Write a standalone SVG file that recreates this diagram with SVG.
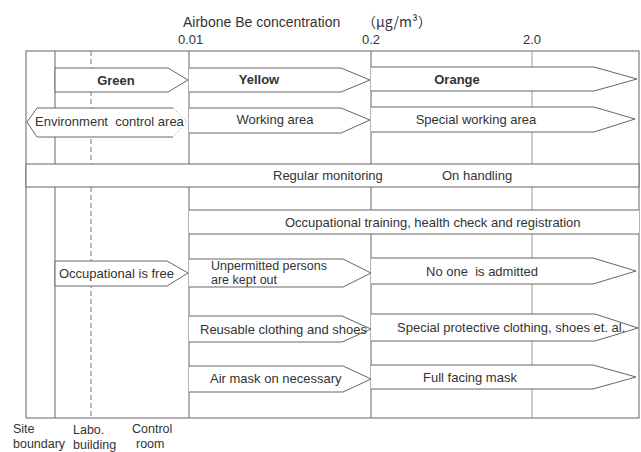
<svg xmlns="http://www.w3.org/2000/svg" width="641" height="452" viewBox="0 0 641 452">
<style>
text{font-family:"Liberation Sans",Arial,"Noto Sans CJK JP",sans-serif;font-size:13px;fill:#333}
.b{font-weight:bold}
.m{text-anchor:middle}
.ln{fill:none;stroke:#666;stroke-width:1}
.lt{fill:none;stroke:#999;stroke-width:1}
.dash{fill:none;stroke:#777;stroke-width:1;stroke-dasharray:5 3}
.wf{fill:#fff;stroke:none}
.sh{fill:#fff;stroke:#666;stroke-width:1}
.faint{fill:none;stroke:#bbb;stroke-width:1;stroke-dasharray:2 2}
.sm{font-size:12.5px}
</style>
<rect width="641" height="452" fill="#fff"/>
<g id="axis-labels">
<text x="183" y="27" style="font-size:14px">Airbone Be concentration<tspan x="362" style="font-family:'Noto Sans CJK JP',sans-serif">（μg/m³）</tspan></text>
<text x="178" y="44">0.01</text>
<text x="362" y="44">0.2</text>
<text x="523" y="44">2.0</text>
<text class="sm" x="13" y="433">Site</text>
<text class="sm" x="13" y="448">boundary</text>
<text class="sm" x="73" y="434">Labo.</text>
<text class="sm" x="73" y="449">building</text>
<text class="sm" x="132" y="433">Control</text>
<text class="sm" x="136" y="448">room</text>
</g>
<g id="connectors">
<rect class="ln" x="26" y="51" width="613" height="367"/>
<line class="ln" x1="55" y1="51" x2="55" y2="418"/>
<line class="dash" x1="91" y1="51" x2="91" y2="418"/>
<line class="ln" x1="189" y1="51" x2="189" y2="418"/>
<line class="ln" x1="371" y1="51" x2="371" y2="418"/>
<line class="lt" x1="532" y1="51" x2="532" y2="418"/>
</g>
<g id="green">
<polygon class="sh" points="55,68 168,68 188,80 168,92 55,92"/>
<text class="b m" x="116" y="85">Green</text>
</g>
<g id="yellow">
<polygon class="wf" points="189,68 341,68 370,80 341,92 189,92"/>
<polyline class="ln" points="189,68 341,68 370,80 341,92 189,92"/>
<text class="b m" x="259" y="84">Yellow</text>
</g>
<g id="orange">
<polygon class="wf" points="371,67 594,67 637,79 594,91 371,91"/>
<polyline class="ln" points="371,67 594,67 637,79 594,91 371,91"/>
<text class="b m" x="457" y="84">Orange</text>
</g>
<g id="environment-control-area">
<polygon class="wf" points="37,108 173,108 187,122 173,137 37,137 27,122"/>
<polyline class="ln" points="173,108 37,108 27,122 37,137 173,137"/>
<polyline class="faint" points="173,108 187,122 173,137"/>
<text x="35" y="126" xml:space="preserve">Environment  control area</text>
</g>
<g id="working-area">
<polygon class="wf" points="189,108 341,108 370,120 341,133 189,133"/>
<polyline class="ln" points="189,108 341,108 370,120 341,133 189,133"/>
<text class="m" x="275" y="124">Working area</text>
</g>
<g id="special-working-area">
<polygon class="wf" points="371,107 594,107 635,119 594,132 371,132"/>
<polyline class="ln" points="371,107 594,107 635,119 594,132 371,132"/>
<text class="m" x="476" y="124">Special working area</text>
</g>
<g id="monitoring">
<rect class="sh" x="26" y="164" width="613" height="23"/>
<text x="273" y="180">Regular monitoring</text>
<text x="442" y="180">On handling</text>
</g>
<g id="occupational-training">
<rect class="wf" x="189" y="210" width="450" height="24"/>
<line class="ln" x1="189" y1="210" x2="639" y2="210"/>
<line class="ln" x1="189" y1="234" x2="639" y2="234"/>
<text x="285" y="227">Occupational training, health check and registration</text>
</g>
<g id="occupational-free">
<polygon class="sh" points="55,261 167,261 188,273 167,286 55,286"/>
<text x="59" y="278">Occupational is free</text>
</g>
<g id="unpermitted">
<polygon class="wf" points="189,259 343,259 371,273 343,287 189,287"/>
<polyline class="ln" points="189,259 343,259 371,273 343,287 189,287"/>
<text class="sm" x="211" y="270">Unpermitted persons</text>
<text class="sm" x="211" y="284">are kept out</text>
</g>
<g id="no-one-admitted">
<polygon class="wf" points="371,258 593,258 636,271 593,284 371,284"/>
<polyline class="ln" points="371,258 593,258 636,271 593,284 371,284"/>
<text x="426" y="276" xml:space="preserve">No one  is admitted</text>
</g>
<g id="reusable-clothing">
<polygon class="wf" points="189,316 342,316 371,329 342,342 189,342"/>
<polyline class="ln" points="189,316 342,316 371,329 342,342 189,342"/>
<text x="200" y="334">Reusable clothing and shoes</text>
</g>
<g id="special-protective-clothing">
<polygon class="wf" points="371,314 595,314 638,328 595,341 371,341"/>
<polyline class="ln" points="371,314 595,314 638,328 595,341 371,341"/>
<text x="397" y="332">Special protective clothing, shoes et. al.</text>
</g>
<g id="air-mask">
<polygon class="wf" points="189,366 343,366 371,379 343,392 189,392"/>
<polyline class="ln" points="189,366 343,366 371,379 343,392 189,392"/>
<text x="210" y="383">Air mask on necessary</text>
</g>
<g id="full-facing-mask">
<polygon class="wf" points="371,365 593,365 636,377 593,389 371,389"/>
<polyline class="ln" points="371,365 593,365 636,377 593,389 371,389"/>
<text x="423" y="382">Full facing mask</text>
</g>
</svg>
